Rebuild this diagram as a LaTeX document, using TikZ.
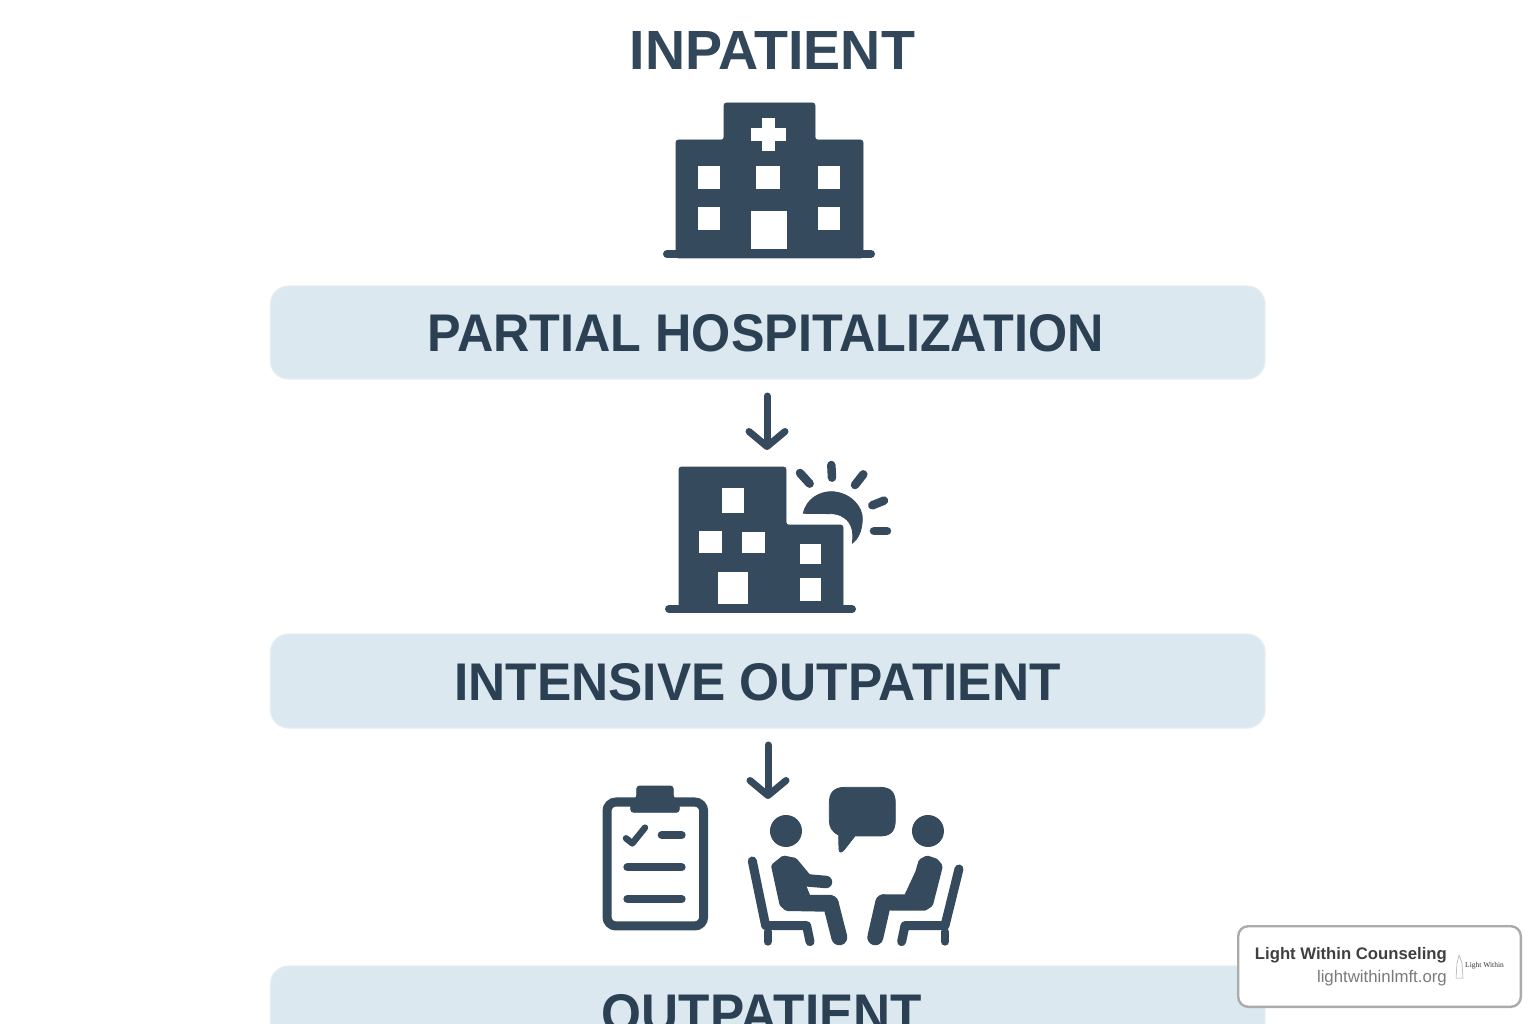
\documentclass[tikz,border=0pt]{standalone}
\usepackage{graphicx}
\usepackage{fontspec}
\setmainfont{Liberation Sans}
\usetikzlibrary{arrows.meta}
\definecolor{ink}{HTML}{354A5C}
\definecolor{txt}{HTML}{32475A}
\definecolor{txtdark}{HTML}{2B4053}
\definecolor{band}{HTML}{DCE8EF}
\definecolor{bandline}{HTML}{E6EEF3}
\newcommand{\fitbold}[3]{\resizebox{#1pt}{#2pt}{\bfseries #3}}
\tikzset{
 x=1pt,y=-1pt,
 banner/.style={draw=bandline,line width=1.2pt,fill=band,rounded corners=18pt},
 title/.style={inner sep=0pt,text=txt},
 bandtitle/.style={inner sep=0pt,text=txtdark},
 flow/.style={draw=ink,line width=7pt,line cap=round,-{Straight Barb[length=15pt,width=36pt,round]}},
 solid ink/.style={fill=ink,draw=ink,line width=0.8pt,line join=round},
 soft ink/.style={fill=ink,draw=ink,line width=8pt,line join=round},
 hole/.style={fill=white},
 bar/.style={draw=ink,line cap=round,line width=8pt},
 zoomed/.style={x=0.3333pt,y=-0.3333pt},
 card/.style={draw=black!33,line width=2.4pt,fill=white,rounded corners=10pt},
}
\begin{document}
\begin{tikzpicture}
\useasboundingbox (0,0) rectangle (1536,1024);
\clip (0,0) rectangle (1536,1024);
\fill[white] (0,0) rectangle (1536,1024);

% banners
\draw[banner] (270.5,286) rectangle (1265,379);
\draw[banner] (270.5,634) rectangle (1265,728);
\draw[banner] (270.5,966) rectangle (1265,1060);

% titles
\node[title] (inpatient) at (772.5,50) {\fitbold{285}{38}{INPATIENT}};
\node[bandtitle] (partial) at (765.5,333) {\fitbold{676}{37}{PARTIAL HOSPITALIZATION}};
\node[bandtitle] (intensive) at (757.5,682) {\fitbold{606}{37}{INTENSIVE OUTPATIENT}};
\node[bandtitle] (outpatient) at (762,1014) {\fitbold{320}{38}{OUTPATIENT}};

% arrows
\coordinate (a1s) at (767,396);
\coordinate (a1e) at (767,450);
\coordinate (a2s) at (768,745);
\coordinate (a2e) at (768,799);
\draw[flow] (a1s) -- (a1e);
\draw[flow] (a2s) -- (a2e);

% hospital
\draw[solid ink,rounded corners=2.5pt] (676,258) -- (676,140) -- (724,140) -- (724,103) -- (815,103) -- (815,140) -- (863,140) -- (863,258) -- cycle;
\draw[bar] (667,254) -- (871,254);
\foreach \a/\b/\c/\d in {698/166/720/189,756/166/780/189,818/166/840/189,698/207/720/230,818/207/840/230,751/211/787/249}
  \fill[hole] (\a,\b) rectangle (\c,\d);
\fill[hole] (751,128) rectangle (786,141);
\fill[hole] (762,118) rectangle (775,151);

% day hospital
\draw[solid ink,rounded corners=2.5pt] (679,612) -- (679,467) -- (786,467) -- (786,525) -- (843,525) -- (843,612) -- cycle;
\draw[bar] (669,609) -- (852,609);
\foreach \a/\b/\c/\d in {722/488/744/513,699/531/722/553,742/532/765/553,800/544/821/564,800/578/821/601,718/572/748/604}
  \fill[hole] (\a,\b) rectangle (\c,\d);
\begin{scope}[shift={(650,385)},zoomed]
 \draw[solid ink] (460,385) .. controls (470,340) and (510,320) .. (545,320)
   .. controls (600,322) and (640,365) .. (637,405)
   .. controls (635,440) and (625,460) .. (607,475)
   .. controls (612,440) and (605,415) .. (585,400)
   .. controls (570,388) and (555,386) .. (540,386) -- cycle;
 \draw[bar,line width=8.5pt] (450,264) -- (479,296);
 \draw[bar,line width=8.5pt] (544,240) -- (546,278);
 \draw[bar,line width=8.5pt] (640,268) -- (615,300);
 \draw[bar,line width=8.5pt] (702,347) -- (667,361);
 \draw[bar,line width=8.5pt] (672,438) -- (711,438);
\end{scope}

% clipboard and people
\begin{scope}[shift={(590,735)},zoomed]
 \draw[draw=ink,line width=9pt,rounded corners=9pt] (51,201) rectangle (341,573);
 \draw[solid ink,rounded corners=3pt] (140,190) -- (140,153) -- (250,153) -- (250,190) -- (268,200) -- (268,232) -- (122,232) -- (122,200) -- cycle;
 \draw[bar,line width=6.5pt,line join=round] (108,310) -- (127,325) -- (165,278);
 \draw[bar] (215,300) -- (275,300);
 \draw[bar] (112,397) -- (275,397);
 \draw[bar] (112,492) -- (275,492);

 % bubble
 \draw[solid ink] (765,157) -- (870,157) .. controls (905,157) and (916,175) .. (916,205)
   -- (916,255) .. controls (916,290) and (900,303) .. (870,303) -- (795,303)
   -- (762,345) .. controls (755,353) and (747,355) .. (747,342)
   -- (746,300) .. controls (725,290) and (718,275) .. (718,255)
   -- (718,205) .. controls (718,175) and (730,157) .. (765,157) -- cycle;

 % left person
 \fill[ink] (588,288) circle[radius=48];
 \draw[soft ink] (582,374) -- (612,380) -- (652,428) -- (636,452) -- (652,492) -- (724,492) -- (735,505) -- (700,518) -- (592,516) -- (580,505) -- (556,395) -- cycle;
 \draw[bar,line width=16pt] (722,505) -- (748,607);
 \draw[bar,line width=12.5pt] (650,436) -- (708,441);
 \draw[bar,line width=9pt,line join=round] (487,378) -- (527,572) -- (650,572) -- (660,620);
 \draw[bar] (533,590) -- (533,620);

 % right person
 \fill[ink] (1014,288) circle[radius=48];
 \draw[soft ink] (1012,374) -- (1035,382) -- (1046,395) -- (1018,505) -- (1003,515) -- (905,515) -- (880,505) -- (880,490) -- (952,490) -- (987,415) -- (997,382) -- cycle;
 \draw[bar,line width=16pt] (880,502) -- (856,607);
 \draw[bar,line width=9pt,line join=round] (1107,402) -- (1065,572) -- (945,572) -- (935,620);
 \draw[bar] (1065,590) -- (1065,620);
\end{scope}

% card
\node[card,minimum width=282.6pt,minimum height=80.6pt,anchor=north west,inner sep=0pt] (cardbox) at (1237,925) {};
\node[anchor=east,inner sep=0pt,text=black!75,font=\bfseries\fontsize{16.7}{20}\selectfont] (cardname) at (1447,955) {Light Within Counseling};
\node[anchor=east,inner sep=0pt,text=black!52,font=\fontsize{16.8}{20}\selectfont] (cardurl) at (1447,978.5) {lightwithinlmft.org};
\node[anchor=west,inner sep=0pt,text=black!80,font=\fontspec{Liberation Serif}\fontsize{7.5}{8}\selectfont] (logotext) at (1465,966) {Light Within};
\draw[black!35,line width=0.5pt] (1457,963) -- (1456,978) -- (1463,978) -- (1462,963) -- (1459,955) -- cycle;
\end{tikzpicture}
\end{document}
